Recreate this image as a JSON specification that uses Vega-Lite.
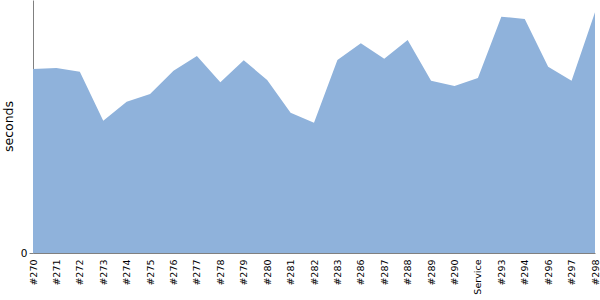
{
  "$schema": "https://vega.github.io/schema/vega-lite/v6.json",
  "width": 562,
  "height": 253,
  "autosize": {"type": "none"},
  "padding": {"left": 33, "top": 0, "right": 5, "bottom": 47},
  "config": {"view": {"stroke": null}, "font": "DejaVu Sans"},
  "data": {"values": [
    {"build": "#270", "seconds": 184},
    {"build": "#271", "seconds": 185},
    {"build": "#272", "seconds": 181.3},
    {"build": "#273", "seconds": 132.3},
    {"build": "#274", "seconds": 151.3},
    {"build": "#275", "seconds": 159},
    {"build": "#276", "seconds": 182.3},
    {"build": "#277", "seconds": 197},
    {"build": "#278", "seconds": 170.7},
    {"build": "#279", "seconds": 192.7},
    {"build": "#280", "seconds": 173},
    {"build": "#281", "seconds": 140.3},
    {"build": "#282", "seconds": 130.3},
    {"build": "#283", "seconds": 193},
    {"build": "#286", "seconds": 209.7},
    {"build": "#287", "seconds": 194.3},
    {"build": "#288", "seconds": 213},
    {"build": "#289", "seconds": 172.3},
    {"build": "#290", "seconds": 167},
    {"build": "Service", "seconds": 175},
    {"build": "#293", "seconds": 236.3},
    {"build": "#294", "seconds": 234},
    {"build": "#296", "seconds": 186.3},
    {"build": "#297", "seconds": 172.3},
    {"build": "#298", "seconds": 240.7}
  ]},
  "mark": {"type": "area", "color": "#8fb2db", "opacity": 1},
  "encoding": {
    "x": {
      "field": "build", "type": "nominal", "sort": null,
      "scale": {"type": "point", "padding": 0},
      "axis": {
        "title": null, "labelAngle": -90, "labelAlign": "right", "labelBaseline": "middle",
        "labelFont": "DejaVu Sans", "labelFontSize": 9.5, "labelColor": "#000000", "ticks": false, "labelPadding": 6,
        "domainColor": "#808080", "grid": false, "labelOverlap": false
      }
    },
    "y": {
      "field": "seconds", "type": "quantitative",
      "scale": {"domain": [0, 253], "nice": false},
      "axis": {
        "values": [0], "title": "seconds", "titleFont": "DejaVu Sans", "titleFontSize": 12.5, "titleFontWeight": "normal",
        "titleColor": "#000000", "titleX": -18, "titleY": 126,
        "labelFont": "DejaVu Sans", "labelFontSize": 10.5, "labelColor": "#000000", "tickColor": "#808080", "tickSize": 4,
        "labelPadding": 2, "domainColor": "#808080", "grid": false
      }
    }
  }
}
